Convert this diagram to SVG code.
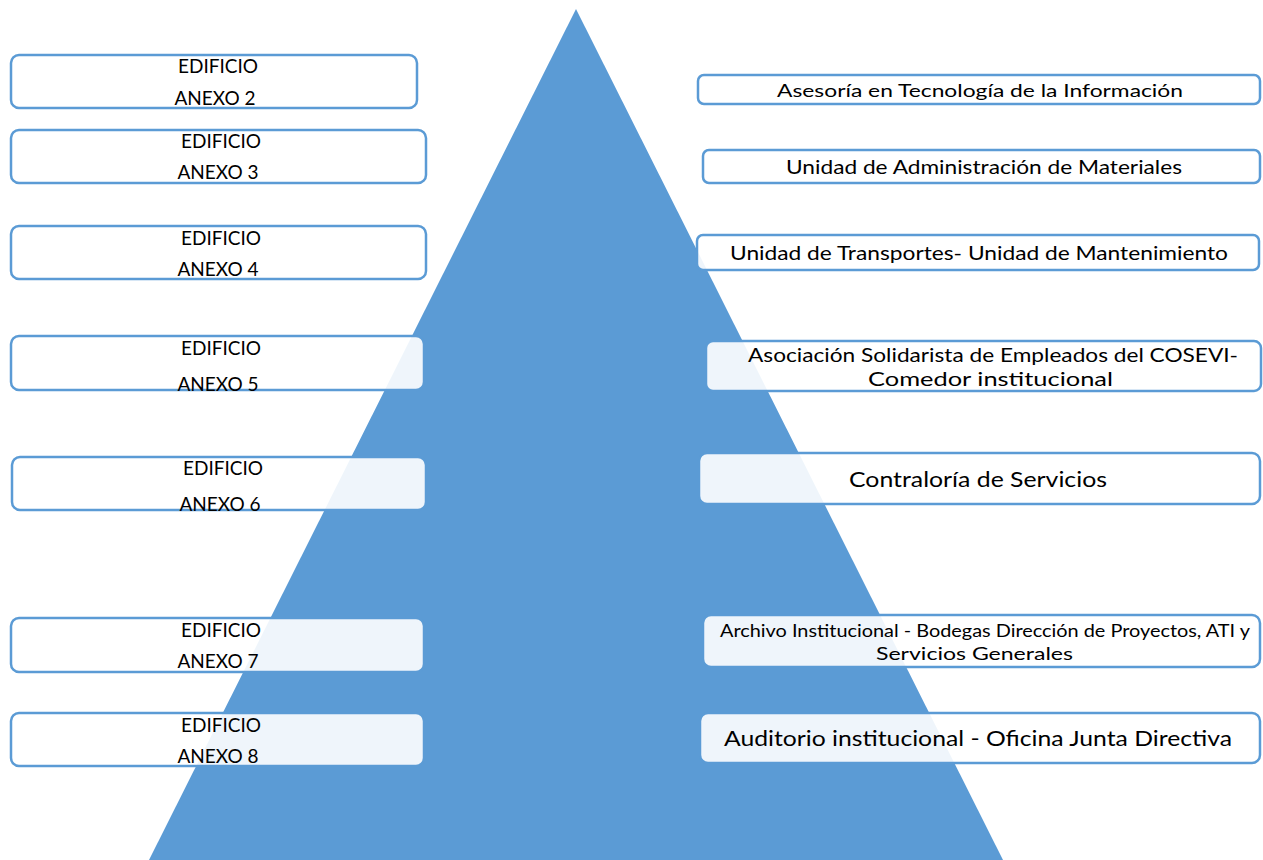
<svg xmlns="http://www.w3.org/2000/svg" width="1263" height="860" viewBox="0 0 1263 860">
<style>
.box{fill:#ffffff;fill-opacity:0.9;stroke:#5B9BD5;stroke-width:2.5}
text{font-family:Lato,"Open Sans","Liberation Sans",sans-serif;fill:#000000}
.l{font-size:19px;text-anchor:middle}
</style>
<rect width="1263" height="860" fill="#ffffff"/>
<polygon id="pyramid" points="576,9 149,860 1003,860" fill="#5B9BD5"/>
<g id="connectors"></g>
<g id="anexo2"><rect class="box" x="11" y="55" width="406" height="53" rx="8"/><text class="l" x="218" y="73">EDIFICIO</text><text class="l" x="215" y="105">ANEXO 2</text></g>
<g id="anexo3"><rect class="box" x="11" y="130" width="415" height="53" rx="8"/><text class="l" x="221" y="148">EDIFICIO</text><text class="l" x="218" y="179">ANEXO 3</text></g>
<g id="anexo4"><rect class="box" x="11" y="226" width="415" height="53" rx="8"/><text class="l" x="221" y="245">EDIFICIO</text><text class="l" x="218" y="276">ANEXO 4</text></g>
<g id="anexo5"><rect class="box" x="11" y="336" width="413" height="54" rx="8"/><text class="l" x="221" y="355">EDIFICIO</text><text class="l" x="218" y="391">ANEXO 5</text></g>
<g id="anexo6"><rect class="box" x="12" y="457" width="414" height="53" rx="8"/><text class="l" x="223" y="475">EDIFICIO</text><text class="l" x="220" y="511">ANEXO 6</text></g>
<g id="anexo7"><rect class="box" x="11" y="618" width="413" height="54" rx="8"/><text class="l" x="221" y="637">EDIFICIO</text><text class="l" x="218" y="668">ANEXO 7</text></g>
<g id="anexo8"><rect class="box" x="11" y="713" width="413" height="53" rx="8"/><text class="l" x="221" y="732">EDIFICIO</text><text class="l" x="218" y="763">ANEXO 8</text></g>
<g id="r1"><rect class="box" x="698" y="75" width="562" height="29" rx="6"/><text x="777" y="97" font-size="18" textLength="406" lengthAdjust="spacingAndGlyphs">Asesoría en Tecnología de la Información</text></g>
<g id="r2"><rect class="box" x="703" y="150" width="557" height="33" rx="6"/><text x="786" y="174" font-size="19" textLength="396" lengthAdjust="spacingAndGlyphs">Unidad de Administración de Materiales</text></g>
<g id="r3"><rect class="box" x="697" y="235" width="562" height="35" rx="6"/><text x="730" y="260" font-size="20" textLength="498" lengthAdjust="spacingAndGlyphs">Unidad de Transportes- Unidad de Mantenimiento</text></g>
<g id="r4"><rect class="box" x="706" y="341" width="555" height="50" rx="7"/><text x="748" y="362" font-size="19" textLength="490" lengthAdjust="spacingAndGlyphs">Asociación Solidarista de Empleados del COSEVI-</text><text x="868" y="386" font-size="19" textLength="245" lengthAdjust="spacingAndGlyphs">Comedor institucional</text></g>
<g id="r5"><rect class="box" x="699" y="453" width="561" height="51" rx="8"/><text x="849" y="487" font-size="22" textLength="258" lengthAdjust="spacingAndGlyphs">Contraloría de Servicios</text></g>
<g id="r6"><rect class="box" x="703" y="615" width="557" height="52" rx="8"/><text x="720" y="637" font-size="17" textLength="530" lengthAdjust="spacingAndGlyphs">Archivo Institucional - Bodegas Dirección de Proyectos, ATI y</text><text x="876" y="660" font-size="17" textLength="197" lengthAdjust="spacingAndGlyphs">Servicios Generales</text></g>
<g id="r7"><rect class="box" x="700" y="713" width="560" height="50" rx="8"/><text x="724" y="746" font-size="22" textLength="508" lengthAdjust="spacingAndGlyphs">Auditorio institucional - Oficina Junta Directiva</text></g>
</svg>
